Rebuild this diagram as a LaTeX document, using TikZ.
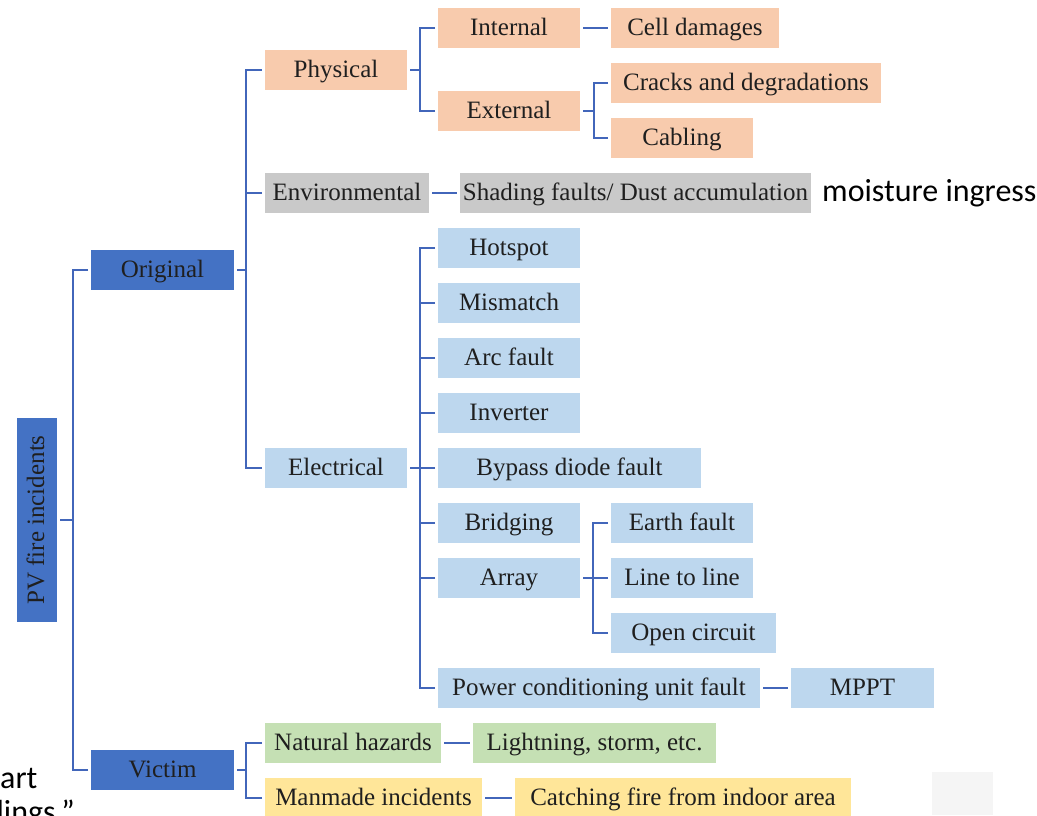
\documentclass[tikz,border=0pt]{standalone}
\usepackage{fontspec}
\setmainfont{Liberation Serif}
\newfontfamily\calibri{Carlito}
\usetikzlibrary{positioning}
\definecolor{rootblue}{HTML}{4472C4}
\definecolor{linkblue}{HTML}{4266BA}
\definecolor{peach}{HTML}{F8CBAD}
\definecolor{envgray}{HTML}{C9C9C9}
\definecolor{elecblue}{HTML}{BDD7EE}
\definecolor{natgreen}{HTML}{C5E0B4}
\definecolor{manyellow}{HTML}{FFE699}
\definecolor{ghostgray}{HTML}{F5F5F5}
\tikzset{
  blk/.style={rectangle,minimum height=40,inner sep=0,outer sep=3,anchor=west,text height=18,text depth=4,text=black!88,font=\fontsize{25}{28}\selectfont},
  rootblk/.style={blk,fill=rootblue},
  phyblk/.style={blk,fill=peach},
  envblk/.style={blk,fill=envgray},
  elecblk/.style={blk,fill=elecblue},
  natblk/.style={blk,fill=natgreen},
  manblk/.style={blk,fill=manyellow},
  lnk/.style={draw=linkblue,line width=2.6},
  note/.style={font=\calibri\fontsize{32}{36}\selectfont,inner sep=0,text=black}
}
\begin{document}
\begin{tikzpicture}[x=1pt,y=-1pt]
  \useasboundingbox (0,0) rectangle (1037,815);
  \fill[ghostgray] (932,772) rectangle (993,815);

  % root and first level
  \node[rootblk,anchor=center,rotate=90,minimum width=204] (pv) at (37,520) {PV fire incidents};
  \node[rootblk,minimum width=143] (orig) at (88,270) {Original};
  \node[rootblk,minimum width=143] (vict) at (88,770) {Victim};

  % original
  \node[phyblk,minimum width=142] (phys) at (262,70) {Physical};
  \node[phyblk,minimum width=142] (intl) at (435,28) {Internal};
  \node[phyblk,minimum width=168,right=25 of intl] (cell) {Cell damages};
  \node[phyblk,minimum width=142] (extl) at (435,111) {External};
  \node[phyblk,minimum width=270] (crck) at (608,83) {Cracks and degradations};
  \node[phyblk,minimum width=142] (cabl) at (608,138) {Cabling};
  \node[envblk,minimum width=164] (envr) at (262,193) {Environmental};
  \node[envblk,minimum width=351,right=25 of envr] (shad) {Shading faults/ Dust accumulation};
  \node[note,right=8 of shad] (moist) {moisture ingress};
  \node[elecblk,minimum width=142] (elec) at (262,468) {Electrical};
  \node[elecblk,minimum width=142] (hot) at (435,248) {Hotspot};
  \node[elecblk,minimum width=142] (mism) at (435,303) {Mismatch};
  \node[elecblk,minimum width=142] (arcf) at (435,358) {Arc fault};
  \node[elecblk,minimum width=142] (invt) at (435,413) {Inverter};
  \node[elecblk,minimum width=263] (byps) at (435,468) {Bypass diode fault};
  \node[elecblk,minimum width=142] (brdg) at (435,523) {Bridging};
  \node[elecblk,minimum width=142] (arry) at (435,578) {Array};
  \node[elecblk,minimum width=142] (erth) at (608,523) {Earth fault};
  \node[elecblk,minimum width=142] (ltol) at (608,578) {Line to line};
  \node[elecblk,minimum width=165] (opnc) at (608,633) {Open circuit};
  \node[elecblk,minimum width=322] (pcu) at (435,688) {Power conditioning unit fault};
  \node[elecblk,minimum width=143,right=25 of pcu] (mppt) {MPPT};

  % victim
  \node[natblk,minimum width=176] (natr) at (262,743) {Natural hazards};
  \node[natblk,minimum width=243,right=26 of natr] (ltng) {Lightning, storm, etc.};
  \node[manblk,minimum width=217] (manm) at (262,798) {Manmade incidents};
  \node[manblk,minimum width=336,right=27 of manm] (ctch) {Catching fire from indoor area};

  % cut-off text at the left
  \node[note,anchor=base west] (art) at (0,788) {art};
  \node[note,anchor=base east] (dings) at (75,822) {dings.”};

  % brackets
  \coordinate (rspine) at (73,520);
  \coordinate (ospine) at (246,270);
  \coordinate (vspine) at (246,770);
  \coordinate (pspine) at (420,70);
  \coordinate (xspine) at (594,111);
  \coordinate (espine) at (420,468);
  \coordinate (aspine) at (593,578);

  \draw[lnk] (pv.south) -- (rspine);
  \draw[lnk] (orig.west) -| (rspine);
  \draw[lnk] (vict.west) -| (rspine);

  \draw[lnk] (orig.east) -- (ospine);
  \draw[lnk] (phys.west) -| (ospine);
  \draw[lnk] (envr.west) -| (ospine);
  \draw[lnk] (elec.west) -| (ospine);

  \draw[lnk] (phys.east) -- (pspine);
  \draw[lnk] (intl.west) -| (pspine);
  \draw[lnk] (extl.west) -| (pspine);
  \draw[lnk] (intl) -- (cell);

  \draw[lnk] (extl.east) -- (xspine);
  \draw[lnk] (crck.west) -| (xspine);
  \draw[lnk] (cabl.west) -| (xspine);

  \draw[lnk] (envr) -- (shad);

  \draw[lnk] (elec.east) -- (espine);
  \draw[lnk] (hot.west) -| (espine);
  \draw[lnk] (mism.west) -| (espine);
  \draw[lnk] (arcf.west) -| (espine);
  \draw[lnk] (invt.west) -| (espine);
  \draw[lnk] (byps.west) -| (espine);
  \draw[lnk] (brdg.west) -| (espine);
  \draw[lnk] (arry.west) -| (espine);
  \draw[lnk] (pcu.west) -| (espine);
  \draw[lnk] (pcu) -- (mppt);

  \draw[lnk] (arry.east) -- (aspine);
  \draw[lnk] (erth.west) -| (aspine);
  \draw[lnk] (ltol.west) -| (aspine);
  \draw[lnk] (opnc.west) -| (aspine);

  \draw[lnk] (vict.east) -- (vspine);
  \draw[lnk] (natr.west) -| (vspine);
  \draw[lnk] (manm.west) -| (vspine);
  \draw[lnk] (natr) -- (ltng);
  \draw[lnk] (manm) -- (ctch);
\end{tikzpicture}
\end{document}
